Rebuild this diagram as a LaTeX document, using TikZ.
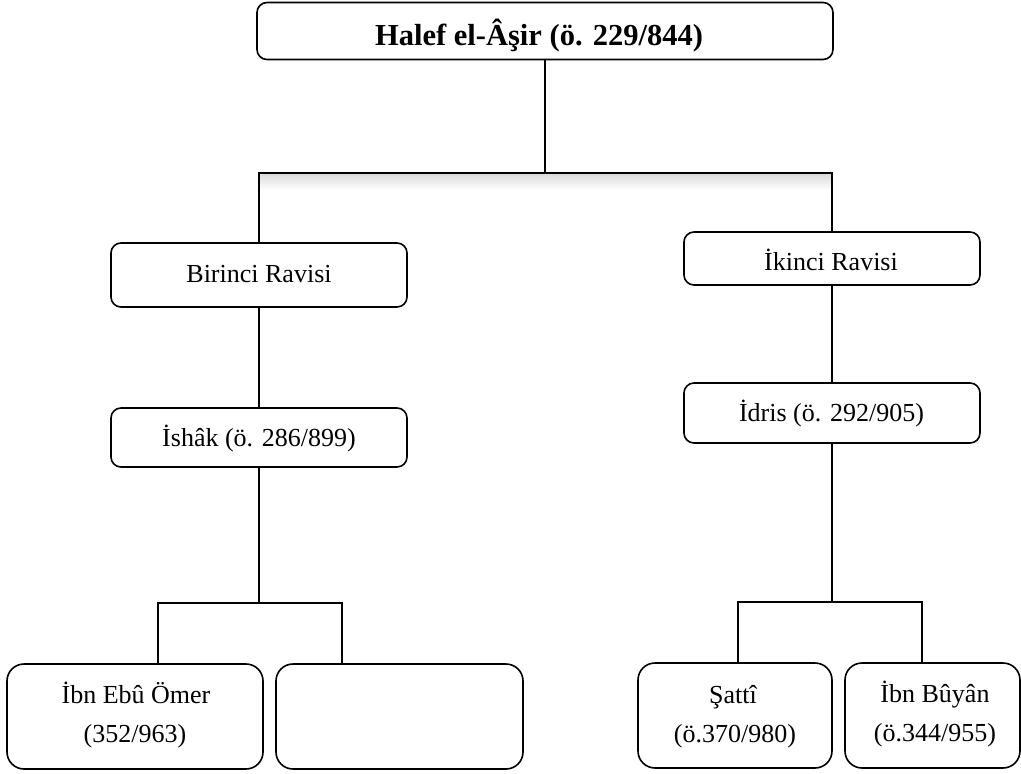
\documentclass[tikz,border=0pt]{standalone}
\usepackage{fontspec}
\setmainfont{Liberation Serif}
\begin{document}
\begin{tikzpicture}[x=1pt,y=-1pt,
  box/.style={rectangle, draw, fill=white, rounded corners=10pt, line width=1.6pt, inner sep=0pt},
  leaf/.style={box, rounded corners=17pt},
  wire/.style={line width=1.3pt},
  lbl/.style={anchor=base, inner sep=0pt, font=\fontsize{26}{30}\selectfont},
  head/.style={anchor=base, inner sep=0pt, font=\fontsize{30.5}{36}\selectfont\bfseries}]
\useasboundingbox (0,0) rectangle (1021,774);

% soft shadow under the first branching line
\shade[top color=black!14, bottom color=white] (259,174) rectangle (832,190);

% boxes
\node[box, minimum width=576pt, minimum height=57pt] (top)   at (545,31) {};
\node[box, minimum width=296pt, minimum height=64pt] (bir)   at (259,275) {};
\node[box, minimum width=296pt, minimum height=53pt] (iki)   at (832,258.5) {};
\node[box, minimum width=296pt, minimum height=59pt] (ishak) at (259,437.5) {};
\node[box, minimum width=296pt, minimum height=60pt] (idris) at (832,413) {};
\node[leaf, minimum width=256pt, minimum height=105pt] (ebu)   at (135,716.5) {};
\node[leaf, minimum width=247pt, minimum height=105pt] (empty) at (399.5,716.5) {};
\node[leaf, minimum width=194pt, minimum height=105pt] (satti) at (735,715.5) {};
\node[leaf, minimum width=175pt, minimum height=105pt] (buyan) at (932.5,715.5) {};

% labels
\node[head] (top-t)   at (539,45)    {Halef el-Âşir (ö. 229/844)};
\node[lbl]  (bir-t)   at (259,282.5) {Birinci Ravisi};
\node[lbl]  (iki-t)   at (831,270)   {İkinci Ravisi};
\node[lbl]  (ishak-t) at (259,446)   {İshâk (ö. 286/899)};
\node[lbl]  (idris-t) at (831.5,421) {İdris (ö. 292/905)};
\node[lbl]  (ebu-t1)  at (136,703)   {İbn Ebû Ömer};
\node[lbl]  (ebu-t2)  at (135,742)   {(352/963)};
\node[lbl]  (satti-t1) at (733,703)  {Şattî};
\node[lbl]  (satti-t2) at (735,742)  {(ö.370/980)};
\node[lbl]  (buyan-t1) at (935,702)  {İbn Bûyân};
\node[lbl]  (buyan-t2) at (935,741)  {(ö.344/955)};

% junction points
\coordinate (hub)  at (545,173);
\coordinate (fL1)  at (158,603);
\coordinate (fL2)  at (342,603);
\coordinate (fR1)  at (738,602);
\coordinate (fR2)  at (922,602);

% connectors
\draw[wire] (top.south) -- (hub);
\draw[wire] (bir.north) |- (hub) -| (iki.north);
\draw[wire] (bir.south) -- (ishak.north);
\draw[wire] (iki.south) -- (idris.north);
\draw[wire] (ishak.south) -- (ishak.south |- fL1);
\draw[wire] (fL1 |- ebu.north) -- (fL1) -- (fL2) -- (fL2 |- empty.north);
\draw[wire] (idris.south) -- (idris.south |- fR1);
\draw[wire] (fR1 |- satti.north) -- (fR1) -- (fR2) -- (fR2 |- buyan.north);
\end{tikzpicture}
\end{document}
